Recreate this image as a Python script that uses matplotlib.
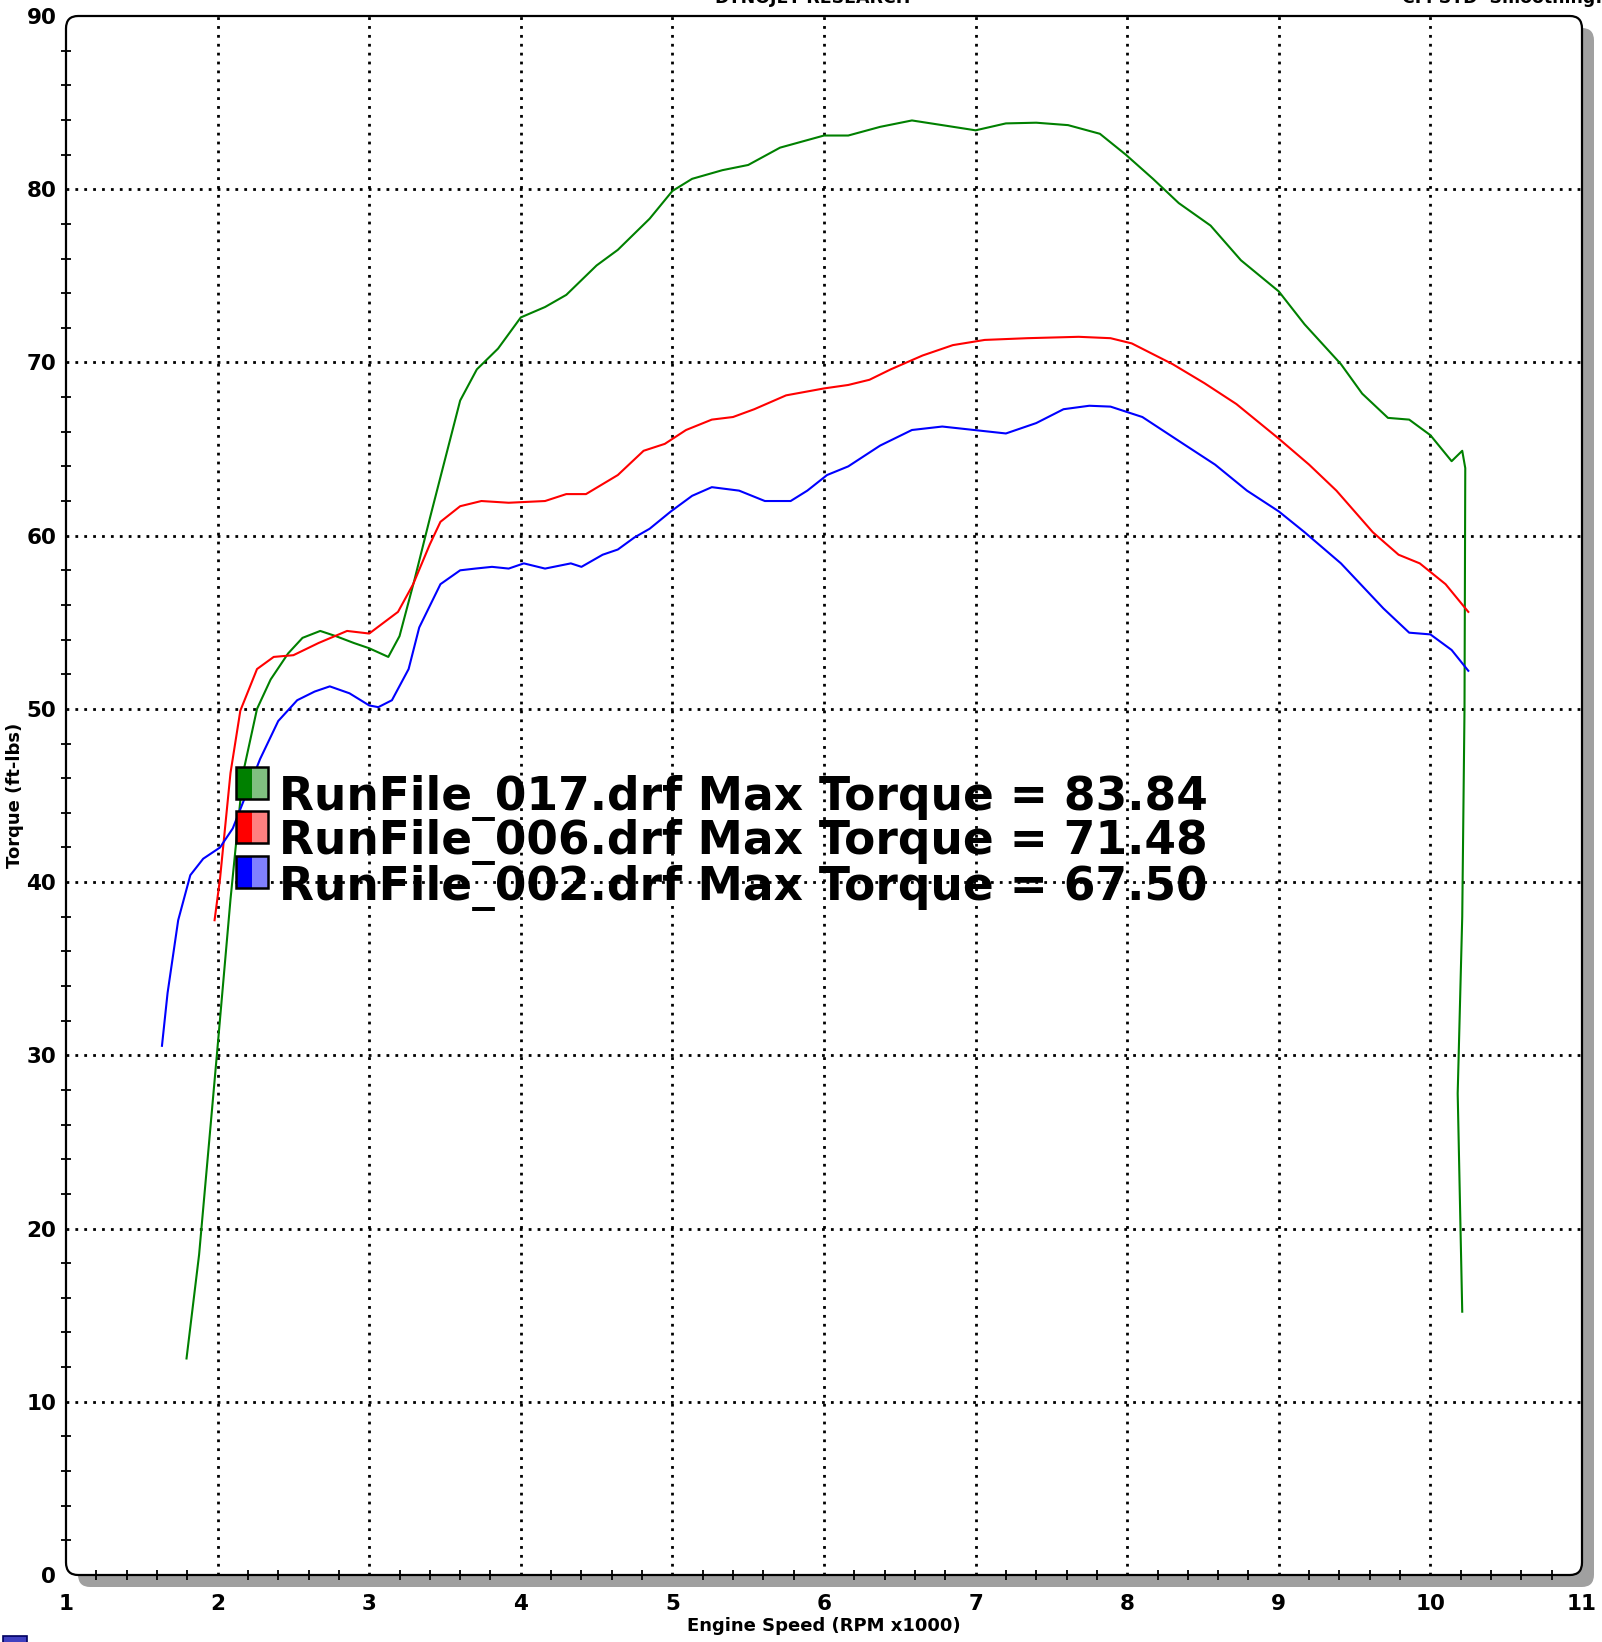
import matplotlib
matplotlib.use("Agg")
import matplotlib.pyplot as plt
from matplotlib.patches import FancyBboxPatch, Rectangle
from matplotlib.ticker import MultipleLocator, FixedLocator

# RunFile_017 (green)
rpm_017 = [1.795, 1.878, 2.0, 2.085, 2.168, 2.26, 2.35, 2.465, 2.56, 2.677, 2.78, 2.9, 3.0,
           3.126, 3.2, 3.3, 3.4, 3.5, 3.6, 3.71, 3.85, 4.0, 4.16, 4.3, 4.5, 4.64, 4.85,
           5.0, 5.13, 5.33, 5.5, 5.71, 6.0, 6.16, 6.37, 6.58, 6.78, 7.0, 7.2, 7.4, 7.61,
           7.82, 7.99, 8.17, 8.34, 8.55, 8.75, 9.0, 9.17, 9.41, 9.55, 9.72, 9.86, 10.0,
           10.14, 10.21, 10.23, 10.225, 10.21, 10.18, 10.21]
tq_017 = [12.5, 18.5, 30.5, 39.0, 46.3, 50.0, 51.7, 53.2, 54.1, 54.5, 54.2, 53.8, 53.5,
          53.0, 54.2, 57.5, 61.0, 64.4, 67.8, 69.6, 70.8, 72.6, 73.2, 73.9, 75.6, 76.5, 78.3,
          79.9, 80.6, 81.1, 81.4, 82.4, 83.1, 83.1, 83.6, 83.97, 83.7, 83.4, 83.8, 83.84,
          83.7, 83.2, 82.0, 80.6, 79.2, 77.9, 75.9, 74.1, 72.2, 69.9, 68.2, 66.8, 66.7, 65.8,
          64.3, 64.9, 63.9, 50.0, 38.0, 27.8, 15.2]

# RunFile_006 (red)
rpm_006 = [1.98, 2.016, 2.085, 2.15, 2.26, 2.37, 2.5, 2.665, 2.854, 3.0, 3.19, 3.29, 3.4,
           3.47, 3.6, 3.74, 3.92, 4.16, 4.3, 4.43, 4.64, 4.81, 4.95, 5.09, 5.26, 5.4, 5.54,
           5.75, 6.0, 6.16, 6.3, 6.44, 6.65, 6.85, 7.06, 7.34, 7.68, 7.89, 8.03, 8.3, 8.51,
           8.72, 9.0, 9.2, 9.38, 9.62, 9.79, 9.93, 10.1, 10.25]
tq_006 = [37.8, 40.2, 46.3, 49.9, 52.3, 53.0, 53.1, 53.8, 54.5, 54.35, 55.6, 57.2, 59.5,
          60.8, 61.7, 62.0, 61.9, 62.0, 62.4, 62.4, 63.5, 64.9, 65.3, 66.1, 66.7, 66.85, 67.3,
          68.1, 68.5, 68.7, 69.0, 69.6, 70.4, 71.0, 71.3, 71.4, 71.48, 71.4, 71.1, 69.9, 68.8,
          67.6, 65.6, 64.1, 62.6, 60.2, 58.9, 58.4, 57.2, 55.6]

# RunFile_002 (blue)
rpm_002 = [1.633, 1.67, 1.74, 1.82, 1.905, 2.016, 2.10, 2.28, 2.4, 2.525, 2.64, 2.74, 2.87,
           3.0, 3.06, 3.15, 3.26, 3.33, 3.47, 3.6, 3.7, 3.81, 3.92, 4.02, 4.16, 4.33, 4.4, 4.54,
           4.64, 4.75, 4.85, 4.99, 5.13, 5.26, 5.44, 5.61, 5.78, 5.89, 6.02, 6.16, 6.37, 6.58,
           6.78, 6.99, 7.2, 7.4, 7.58, 7.75, 7.89, 8.1, 8.37, 8.58, 8.79, 9.0, 9.17, 9.41,
           9.69, 9.86, 10.0, 10.14, 10.25]
tq_002 = [30.55, 33.6, 37.8, 40.4, 41.35, 42.0, 43.1, 47.1, 49.3, 50.5, 51.0, 51.3, 50.9,
          50.2, 50.1, 50.5, 52.3, 54.7, 57.2, 58.0, 58.1, 58.2, 58.1, 58.4, 58.1, 58.4, 58.2,
          58.9, 59.2, 59.9, 60.4, 61.4, 62.3, 62.8, 62.6, 62.0, 62.0, 62.6, 63.5, 64.0, 65.2,
          66.1, 66.3, 66.1, 65.9, 66.5, 67.3, 67.5, 67.45, 66.85, 65.3, 64.1, 62.6, 61.4,
          60.2, 58.4, 55.8, 54.4, 54.3, 53.4, 52.2]

run_names = ["RunFile_017.drf", "RunFile_006.drf", "RunFile_002.drf"]
max_torque = [83.84, 71.48, 67.50]
dark_colors = ["#008000", "#ff0000", "#0000ff"]
light_colors = ["#80c080", "#ff8080", "#8080ff"]

W, H = 1602, 1642
fig = plt.figure(figsize=(W / 100, H / 100), dpi=100)
ax_l, ax_r, ax_b, ax_t = 66, 1582, 1575, 16
ax_w, ax_h = ax_r - ax_l, ax_b - ax_t
ax = fig.add_axes([ax_l / W, (H - ax_b) / H, ax_w / W, ax_h / H])
ax.set_xlim(1, 11)
ax.set_ylim(0, 90)
ax.patch.set_visible(False)
for s in ax.spines.values():
    s.set_visible(False)

# frame with rounded corners and drop shadow
rad = 0.008
dx, dy = 12 / ax_w, 12 / ax_h
shadow = FancyBboxPatch((dx, -dy), 1, 1, boxstyle=f"round,pad=0,rounding_size={rad}",
                        transform=ax.transAxes, facecolor="#a0a0a0", edgecolor="none",
                        zorder=-2, clip_on=False)
frame_bg = FancyBboxPatch((0, 0), 1, 1, boxstyle=f"round,pad=0,rounding_size={rad}",
                          transform=ax.transAxes, facecolor="white", edgecolor="none",
                          zorder=-1, clip_on=False)
frame = FancyBboxPatch((0, 0), 1, 1, boxstyle=f"round,pad=0,rounding_size={rad}",
                       transform=ax.transAxes, facecolor="none", edgecolor="black",
                       linewidth=1.6, zorder=6, clip_on=False)
ax.add_patch(shadow)
ax.add_patch(frame_bg)
ax.add_patch(frame)

# grid
for gx in range(2, 11):
    ax.axvline(gx, color="black", lw=2, dashes=(1, 2.2), zorder=0)
for gy in range(10, 90, 10):
    ax.axhline(gy, color="black", lw=2, dashes=(1, 2.2), zorder=0)

# ticks
ax.xaxis.set_major_locator(MultipleLocator(1))
ax.yaxis.set_major_locator(MultipleLocator(10))
ax.xaxis.set_minor_locator(FixedLocator([1 + 0.2 * i for i in range(1, 50)]))
ax.yaxis.set_minor_locator(FixedLocator([2 * i for i in range(1, 45)]))
ax.tick_params(which="major", length=0, labelsize=15.5)
ax.tick_params(axis="x", which="major", pad=14)
ax.tick_params(axis="y", which="major", pad=7)
ax.tick_params(which="minor", direction="inout", length=7, width=1.3, color="black")
for lab in ax.get_xticklabels() + ax.get_yticklabels():
    lab.set_fontweight("bold")

ax.set_xlabel("Engine Speed (RPM x1000)", fontsize=13, fontweight="bold")
ax.set_ylabel("Torque (ft-lbs)", fontsize=13, fontweight="bold")
ax.xaxis.set_label_coords(0.5, -(1617 - ax_b) / ax_h)
ax.yaxis.set_label_coords(-(66 - 24) / ax_w, 0.5)

# curves
ax.plot(rpm_017, tq_017, color=dark_colors[0], lw=1.5, zorder=3, clip_on=False)
ax.plot(rpm_006, tq_006, color=dark_colors[1], lw=1.5, zorder=3, clip_on=False)
ax.plot(rpm_002, tq_002, color=dark_colors[2], lw=1.5, zorder=3, clip_on=False)

# legend block
box_x0, box_x1 = 2.121, 2.332
box_rows = [(44.80, 46.65), (42.26, 44.11), (39.67, 41.51)]
text_base = [44.17, 41.63, 38.97]
for i in range(3):
    y0, y1 = box_rows[i]
    xm = (box_x0 + box_x1) / 2
    ax.add_patch(Rectangle((box_x0, y0), xm - box_x0, y1 - y0, facecolor=dark_colors[i],
                           edgecolor="none", zorder=4))
    ax.add_patch(Rectangle((xm, y0), box_x1 - xm, y1 - y0, facecolor=light_colors[i],
                           edgecolor="none", zorder=4))
    ax.add_patch(Rectangle((box_x0, y0), box_x1 - box_x0, y1 - y0, facecolor="none",
                           edgecolor="black", lw=1.8, zorder=5))
    ax.text(2.405, text_base[i], f"{run_names[i]} Max Torque = {max_torque[i]:.2f}",
            fontsize=32.8, fontweight="heavy", va="baseline", ha="left", zorder=5)

# header texts (cut off at the top edge as in the source)
fig.text(813 / W, (H - 7) / H, "DYNOJET RESEARCH", fontsize=12.5, fontweight="bold",
         ha="center", va="bottom")
fig.text(1.0, (H - 7) / H, "CF: STD  Smoothing:", fontsize=12.5, fontweight="bold",
         ha="right", va="bottom")

# small marker at bottom-left corner
fig.patches.append(Rectangle((3 / W, -6 / H), 24 / W, 12 / H, transform=fig.transFigure,
                             facecolor="#4040c0", edgecolor="#000060", lw=1.2, figure=fig))

fig.savefig("out.png", dpi=100)
